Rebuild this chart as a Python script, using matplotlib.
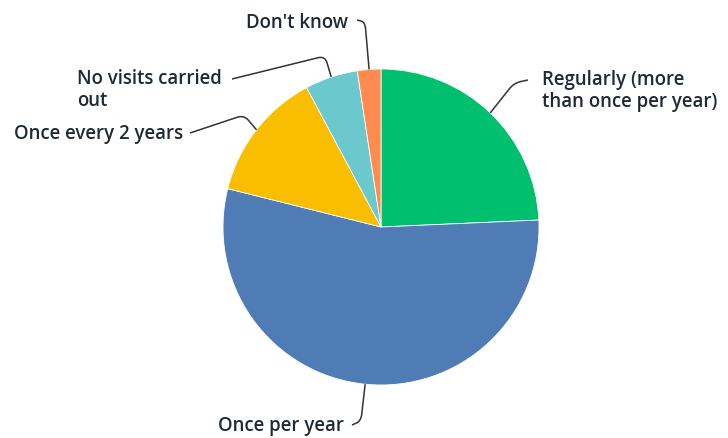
import matplotlib.pyplot as plt
import numpy as np
from matplotlib.path import Path
from matplotlib.patches import PathPatch

labels = ["Regularly (more\nthan once per year)", "Once per year", "Once every 2 years",
          "No visits carried\nout", "Don't know"]
shares = [24.3, 54.6, 13.3, 5.4, 2.4]
colors = ["#00BF6F", "#507CB6", "#F9BE00", "#6BC8CD", "#FF8B4F"]

W, H = 728, 438
cx, cy, R = 381, 227, 158  # pie centre / radius in pixels (y down)

# text anchor (x, y), alignment, leader start, elbow
text_pos = [(542, 91, "left"), (218, 426, "left"), (183, 134, "right"),
            (77, 90, "left"), (348, 23, "right")]
lead_start = [(528, 80), (352, 425), (190, 133), (232, 79), (357, 20)]
lead_elbow = [(514, 83), (361, 421), (244, 115), (325, 56), (365, 22)]

plt.rcParams["font.family"] = ["Open Sans", "DejaVu Sans"]

fig = plt.figure(figsize=(W / 100, H / 100), dpi=100)
ax = fig.add_axes([0, 0, 1, 1])

wedges, _ = ax.pie(shares, colors=colors, startangle=90, counterclock=False,
                   center=(cx, H - cy), radius=R, frame=True,
                   wedgeprops=dict(linewidth=0.6, edgecolor="white"))
ax.set_xlim(0, W)
ax.set_ylim(0, H)
ax.axis("off")


def flip(p):
    return np.array([p[0], H - p[1]], dtype=float)


for w, lab, tp, s, e in zip(wedges, labels, text_pos, lead_start, lead_elbow):
    mid = np.deg2rad((w.theta1 + w.theta2) / 2)
    p2 = np.array([cx + R * np.cos(mid), (H - cy) + R * np.sin(mid)])
    p0 = flip(s)
    p1 = flip(e)
    # round the corner at the elbow
    r = 7
    a = p1 + (p0 - p1) / np.linalg.norm(p0 - p1) * min(r, np.linalg.norm(p0 - p1) / 2)
    b = p1 + (p2 - p1) / np.linalg.norm(p2 - p1) * min(r, np.linalg.norm(p2 - p1) / 2)
    path = Path([p0, a, p1, b, p2],
                [Path.MOVETO, Path.LINETO, Path.CURVE3, Path.CURVE3, Path.LINETO])
    ax.add_patch(PathPatch(path, fill=False, edgecolor="#333333", linewidth=1.1))
    ax.text(tp[0], H - tp[1], lab, ha=tp[2], va="center", fontsize=13.4,
            fontweight="semibold", color="#1f2a36", linespacing=1.1)

fig.savefig("out.png", dpi=100)
